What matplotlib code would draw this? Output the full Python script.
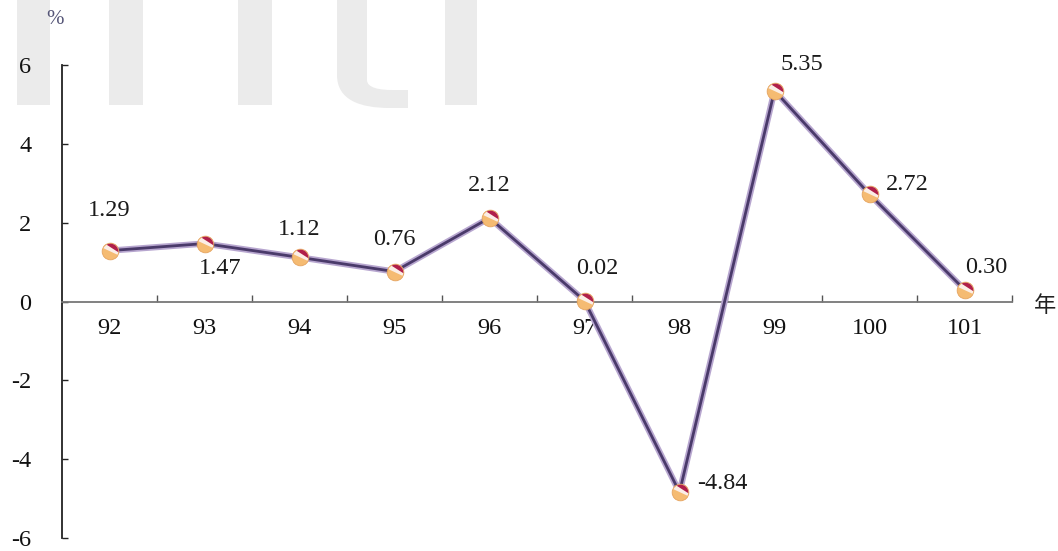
import numpy as np
import matplotlib
matplotlib.use('Agg')
import matplotlib.pyplot as plt
from matplotlib.path import Path
from matplotlib.patches import Rectangle, PathPatch

# data
years = ['92', '93', '94', '95', '96', '97', '98', '99', '100', '101']
growth = [1.29, 1.47, 1.12, 0.76, 2.12, 0.02, -4.84, 5.35, 2.72, 0.30]
label_txt = ['1.29', '1.47', '1.12', '0.76', '2.12', '0.02', '-4.84', '5.35', '2.72', '0.30']
yticks = [-6, -4, -2, 0, 2, 4, 6]

# label offsets (points) for each value label
offs = [(0, 29), (11, -18), (0, 20), (0, 23), (0, 23), (9, 23), (31, 6), (20, 19), (27, 7), (16, 16)]

serif = 'Liberation Serif'

fig = plt.figure(figsize=(10.58, 5.51), dpi=100)

# light grey watermark in the background (pixel coords)
bg = fig.add_axes([0, 0, 1, 1], zorder=-5)
bg.set_xlim(0, 1058)
bg.set_ylim(551, 0)
bg.axis('off')
wm = '#ebebeb'
for x0, x1 in [(17, 50), (109, 143), (238, 272), (445, 477)]:
    bg.add_patch(Rectangle((x0, 0), x1 - x0, 105, color=wm, lw=0))
t_path = Path([(337, 0), (367, 0), (367, 80), (367, 88), (380, 90), (392, 90),
               (408, 90), (408, 108), (390, 108), (360, 108), (337, 100), (337, 75), (337, 0)],
              [Path.MOVETO, Path.LINETO, Path.LINETO, Path.CURVE4, Path.CURVE4, Path.CURVE4,
               Path.LINETO, Path.LINETO, Path.LINETO, Path.CURVE4, Path.CURVE4, Path.CURVE4,
               Path.CLOSEPOLY])
bg.add_patch(PathPatch(t_path, color=wm, lw=0))

ax = fig.add_axes([62 / 1058, 13 / 551, 950 / 1058, 473 / 551])
ax.patch.set_alpha(0)
x = np.arange(len(years))

# line: light halo + dark purple
ax.plot(x, growth, color='#b7a6cf', lw=4.5, zorder=3, solid_capstyle='round')
ax.plot(x, growth, color='#4a3a6a', lw=2, zorder=4)


def segment(a1, a2):
    arc = Path.arc(a1, a2)
    return Path(np.vstack([arc.vertices, arc.vertices[:1]]), list(arc.codes) + [Path.CLOSEPOLY])


# markers: peach ball, white highlight band, crimson cap
ax.plot(x, growth, 'o', ms=12, mfc='#f5bb72', mec='#e5a460', mew=0.6, zorder=5)
ax.plot(x, growth, ls='none', marker=segment(-25, 155), ms=11.4, mfc='#fbeee6', mec='none', zorder=6)
ax.plot(x, growth, ls='none', marker=segment(-5, 120), ms=11.4, mfc='#b01f4a', mec='none', zorder=7)

for i, t in enumerate(label_txt):
    ax.annotate(t, (x[i], growth[i]), xytext=offs[i], textcoords='offset points',
                ha='center', va='center', fontsize=17.5, family=serif, color='#1a1a1a')

ax.set_xlim(-0.5, len(years) - 0.5)
ax.set_ylim(-6, 6)

for s in ['top', 'right']:
    ax.spines[s].set_visible(False)
ax.spines['left'].set_color('#222222')
ax.spines['left'].set_linewidth(1.3)
ax.spines['bottom'].set_position(('data', 0))
ax.spines['bottom'].set_color('#777777')
ax.spines['bottom'].set_linewidth(1.3)

ax.set_yticks(yticks)
ax.set_yticklabels([str(v) for v in yticks], family=serif, fontsize=17.5)
ax.tick_params(axis='y', direction='in', length=4, width=1, pad=22, colors='#222222', labelcolor='#111111')

ax.set_xticks(np.arange(len(years)) + 0.5)
ax.set_xticklabels([])
ax.tick_params(axis='x', which='major', direction='in', length=5, width=1, color='#555555')
ax.set_xticks(x, minor=True)
ax.set_xticklabels(years, minor=True, family=serif, fontsize=17.5)
ax.tick_params(axis='x', which='minor', length=0, pad=12, labelcolor='#111111')

fig.text(55 / 1058, 1 - 20 / 551, '%', ha='center', va='center', fontsize=15, family=serif, color='#555577')
fig.text(1045 / 1058, 1 - 305 / 551, '年', ha='center', va='center', fontsize=16,
         family=['Noto Sans CJK TC', 'DejaVu Sans'], color='#222222')

fig.savefig('out.png', dpi=100)
